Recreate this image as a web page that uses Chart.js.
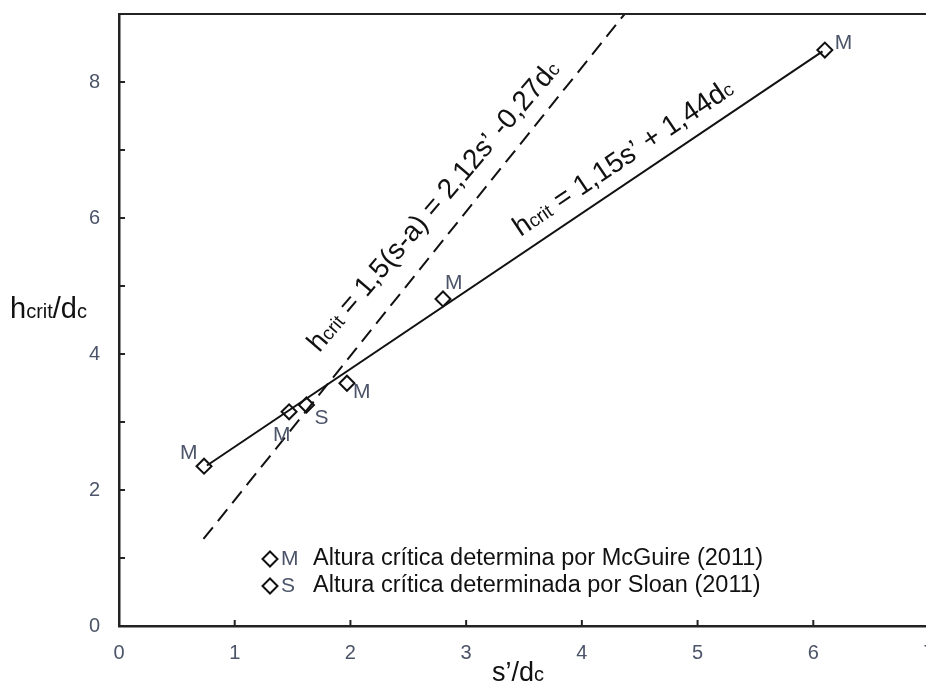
<!DOCTYPE html>
<html><head><meta charset="utf-8">
<script src="https://cdn.jsdelivr.net/npm/chart.js@4.4.1/dist/chart.umd.min.js"></script>
<style>html,body{margin:0;padding:0;background:#fff;overflow:hidden}
#wrap{width:926px;height:684px;overflow:hidden;position:relative;background:#fff}
canvas{display:block}</style></head><body>
<div id="wrap"><canvas id="c" width="940" height="684"></canvas></div>
<script>
// ---- data ----
const xTickValues = [0, 1, 2, 3, 4, 5, 6, 7];
const yLabelValues = [0, 2, 4, 6, 8];
const mcguireX = [0.735, 1.47, 1.97, 2.80, 6.10];
const mcguireY = [2.35, 3.15, 3.57, 4.81, 8.47];
const mcguireLabels = ['M', 'M', 'M', 'M', 'M'];
const sloanX = [1.62];
const sloanY = [3.25];
const sloanLabels = ['S'];
const solidFitX = [0.76, 6.08];
const solidFitY = [2.36, 8.45];
const dashedFitX = [0.73, 4.37];
const dashedFitY = [1.28, 9.0];
const legendTexts = ['Altura crítica determina por McGuire (2011)', 'Altura crítica determinada por Sloan (2011)'];
const legendCodes = ['M', 'S'];

const zip = (xs, ys) => xs.map((x, i) => ({x: x, y: ys[i]}));

const FONT = '"Liberation Sans", Arial, sans-serif';
const LABEL_COLOR = '#4b5468';
const INK = '#111';

// label offsets (pixels) for point letters (left edge, vertical centre)
const mcguireLabelOff = [[-24, -13], [-16, 23], [6, 9], [2, -16], [10, -7]];
const sloanLabelOff = [[8, 13]];

function drawRich(ctx, segs, x, y) {
  let cx = x;
  segs.forEach(s => {
    ctx.font = s.size + 'px ' + FONT;
    ctx.fillText(s.t, cx, y);
    cx += ctx.measureText(s.t).width;
  });
}

const overlay = {
  id: 'overlay',
  afterDatasetsDraw(chart) {
    const ctx = chart.ctx, xs = chart.scales.x, ys = chart.scales.y, ca = chart.chartArea;
    ctx.save();
    // top border
    ctx.strokeStyle = '#222'; ctx.lineWidth = 2;
    ctx.beginPath(); ctx.moveTo(ca.left - 1, ca.top); ctx.lineTo(ca.right + 20, ca.top); ctx.stroke();
    // inner tick marks
    ctx.lineWidth = 2;
    xs.ticks.forEach(t => {
      const p = xs.getPixelForValue(t.value);
      ctx.beginPath(); ctx.moveTo(p, ca.bottom); ctx.lineTo(p, ca.bottom - 6); ctx.stroke();
    });
    ys.ticks.forEach(t => {
      const p = ys.getPixelForValue(t.value);
      ctx.beginPath(); ctx.moveTo(ca.left, p); ctx.lineTo(ca.left + 6, p); ctx.stroke();
    });
    // point letters
    ctx.fillStyle = LABEL_COLOR; ctx.textBaseline = 'middle'; ctx.textAlign = 'left';
    ctx.font = '21px ' + FONT;
    mcguireX.forEach((x, i) => {
      const px = xs.getPixelForValue(x), py = ys.getPixelForValue(mcguireY[i]);
      ctx.fillText(mcguireLabels[i], px + mcguireLabelOff[i][0], py + mcguireLabelOff[i][1]);
    });
    sloanX.forEach((x, i) => {
      const px = xs.getPixelForValue(x), py = ys.getPixelForValue(sloanY[i]);
      ctx.fillText(sloanLabels[i], px + sloanLabelOff[i][0], py + sloanLabelOff[i][1]);
    });
    // rotated equations
    ctx.fillStyle = INK; ctx.textBaseline = 'alphabetic';
    const angOf = (X, Y) => Math.atan2(ys.getPixelForValue(Y[0]) - ys.getPixelForValue(Y[1]),
                                       xs.getPixelForValue(X[1]) - xs.getPixelForValue(X[0]));
    const aD = angOf(dashedFitX, dashedFitY) - 0.03;
    ctx.save();
    ctx.translate(xs.getPixelForValue(1.73), ys.getPixelForValue(4.01));
    ctx.rotate(-aD);
    drawRich(ctx, [{t: 'h', size: 28}, {t: 'crit', size: 19}, {t: ' = 1,5(s-a) = 2,12s\u2019 -0,27d', size: 28}, {t: 'c', size: 19}], 0, 0);
    ctx.restore();
    const aS = angOf(solidFitX, solidFitY);
    ctx.save();
    ctx.translate(xs.getPixelForValue(3.47), ys.getPixelForValue(5.72));
    ctx.rotate(-aS);
    drawRich(ctx, [{t: 'h', size: 28}, {t: 'crit', size: 19}, {t: ' = 1,15s\u2019 + 1,44d', size: 28}, {t: 'c', size: 19}], 0, 0);
    ctx.restore();
    // axis titles
    drawRich(ctx, [{t: 'h', size: 29}, {t: 'crit', size: 20}, {t: '/d', size: 29}, {t: 'c', size: 20}], 10, 318);
    drawRich(ctx, [{t: 's\u2019/d', size: 27}, {t: 'c', size: 20}], 492, 681);
    // legend
    legendTexts.forEach((txt, i) => {
      const cy = 559 + i * 27, cx = 270;
      ctx.strokeStyle = INK; ctx.lineWidth = 2; ctx.fillStyle = '#fff';
      ctx.beginPath(); ctx.moveTo(cx, cy - 7.5); ctx.lineTo(cx + 7.5, cy); ctx.lineTo(cx, cy + 7.5); ctx.lineTo(cx - 7.5, cy); ctx.closePath();
      ctx.fill(); ctx.stroke();
      ctx.textBaseline = 'middle';
      ctx.fillStyle = LABEL_COLOR; ctx.font = '21px ' + FONT;
      ctx.fillText(legendCodes[i], cx + 11, cy);
      ctx.fillStyle = INK; ctx.font = '23.5px ' + FONT;
      ctx.fillText(txt, 313, cy);
    });
    ctx.restore();
  }
};

new Chart(document.getElementById('c'), {
  type: 'scatter',
  data: {
    datasets: [
      {label: 'fit McGuire', data: zip(solidFitX, solidFitY), showLine: true, borderColor: '#111', borderWidth: 2, pointRadius: 0},
      {label: 'fit Sloan', data: zip(dashedFitX, dashedFitY), showLine: true, borderColor: '#111', borderWidth: 2, borderDash: [15, 8], pointRadius: 0},
      {label: 'Altura crítica determina por McGuire (2011)', data: zip(mcguireX, mcguireY), pointStyle: 'rectRot', pointRadius: 7.5, borderColor: '#111', backgroundColor: '#fff', borderWidth: 2},
      {label: 'Altura crítica determinada por Sloan (2011)', data: zip(sloanX, sloanY), pointStyle: 'rectRot', pointRadius: 7.5, borderColor: '#111', backgroundColor: '#fff', borderWidth: 2}
    ]
  },
  options: {
    responsive: false, animation: false,
    layout: {padding: {left: 0, right: 11, top: 14, bottom: 0}},
    plugins: {legend: {display: false}, tooltip: {enabled: false}},
    scales: {
      x: {
        type: 'linear', min: 0, max: 7,
        afterBuildTicks: s => { s.ticks = xTickValues.map(v => ({value: v})); },
        afterFit: s => { s.height = 58; s.paddingLeft = 0; s.paddingRight = 0; },
        ticks: {color: LABEL_COLOR, font: {size: 20, family: FONT}, padding: 15},
        grid: {drawOnChartArea: false, drawTicks: false},
        border: {color: '#222', width: 2.5}
      },
      y: {
        type: 'linear', min: 0, max: 9,
        ticks: {stepSize: 1, color: LABEL_COLOR, font: {size: 20, family: FONT}, padding: 19,
                callback: v => yLabelValues.includes(v) ? String(v) : ''},
        afterFit: s => { s.width = 119; s.paddingTop = 0; s.paddingBottom = 0; },
        grid: {drawOnChartArea: false, drawTicks: false},
        border: {color: '#222', width: 2.5}
      }
    }
  },
  plugins: [overlay]
});
</script></body></html>
